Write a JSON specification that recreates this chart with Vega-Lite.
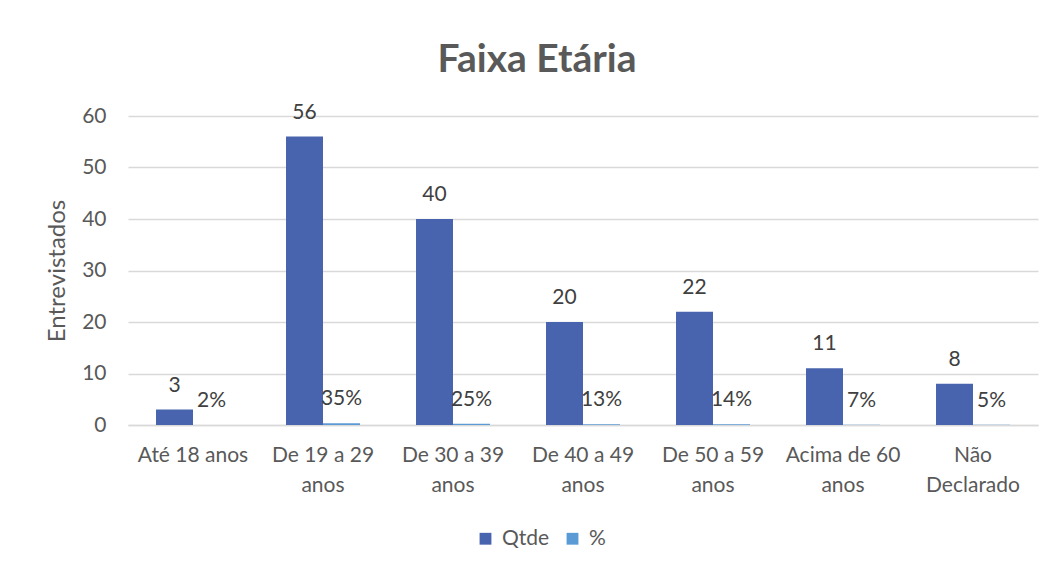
{
  "$schema": "https://vega.github.io/schema/vega-lite/v6.json",
  "autosize": "none",
  "width": 910,
  "height": 309,
  "padding": {"left": 128, "top": 116, "right": 16, "bottom": 146},
  "background": "white",
  "title": {
    "text": "Faixa Etária",
    "font": "Lato",
    "fontSize": 39,
    "fontWeight": "bold",
    "color": "#595959",
    "anchor": "middle",
    "dx": -46,
    "offset": 22
  },
  "data": {
    "values": [
      {"faixa": "Até 18 anos", "serie": "Qtde", "valor": 3, "rotulo": "3"},
      {"faixa": "Até 18 anos", "serie": "%", "valor": 0.02, "rotulo": "2%"},
      {"faixa": "De 19 a 29 anos", "serie": "Qtde", "valor": 56, "rotulo": "56"},
      {"faixa": "De 19 a 29 anos", "serie": "%", "valor": 0.35, "rotulo": "35%"},
      {"faixa": "De 30 a 39 anos", "serie": "Qtde", "valor": 40, "rotulo": "40"},
      {"faixa": "De 30 a 39 anos", "serie": "%", "valor": 0.25, "rotulo": "25%"},
      {"faixa": "De 40 a 49 anos", "serie": "Qtde", "valor": 20, "rotulo": "20"},
      {"faixa": "De 40 a 49 anos", "serie": "%", "valor": 0.13, "rotulo": "13%"},
      {"faixa": "De 50 a 59 anos", "serie": "Qtde", "valor": 22, "rotulo": "22"},
      {"faixa": "De 50 a 59 anos", "serie": "%", "valor": 0.14, "rotulo": "14%"},
      {"faixa": "Acima de 60 anos", "serie": "Qtde", "valor": 11, "rotulo": "11"},
      {"faixa": "Acima de 60 anos", "serie": "%", "valor": 0.07, "rotulo": "7%"},
      {"faixa": "Não Declarado", "serie": "Qtde", "valor": 8, "rotulo": "8"},
      {"faixa": "Não Declarado", "serie": "%", "valor": 0.05, "rotulo": "5%"}
    ]
  },
  "encoding": {
    "x": {
      "field": "faixa",
      "type": "nominal",
      "sort": null,
      "scale": {"paddingInner": 0.431, "paddingOuter": 0.2155},
      "axis": {
        "title": null,
        "labelAngle": 0,
        "labelFont": "Lato",
        "labelFontSize": 21,
        "labelColor": "#595959",
        "labelPadding": 30,
        "labelLineHeight": 30,
        "labelBaseline": "middle",
        "labelExpr": "datum.value == 'Até 18 anos' ? datum.value : datum.value == 'Não Declarado' ? ['Não', 'Declarado'] : [replace(datum.value, ' anos', ''), 'anos']",
        "ticks": false,
        "domainColor": "#d9d9d9",
        "domainWidth": 1.5,
        "grid": false
      }
    },
    "xOffset": {
      "field": "serie",
      "type": "nominal",
      "sort": ["Qtde", "%"],
      "scale": {"paddingInner": 0, "paddingOuter": 0}
    },
    "y": {
      "field": "valor",
      "type": "quantitative",
      "scale": {"domain": [0, 60]},
      "axis": {
        "title": "Entrevistados",
        "titleFont": "Lato",
        "titleFontSize": 24,
        "titleFontWeight": "normal",
        "titleColor": "#595959",
        "titlePadding": 12,
        "values": [0, 10, 20, 30, 40, 50, 60],
        "labelFont": "Lato",
        "labelFontSize": 21,
        "labelColor": "#595959",
        "labelPadding": 22,
        "ticks": false,
        "domain": false,
        "gridColor": "#d9d9d9",
        "gridWidth": 1.5
      }
    }
  },
  "layer": [
    {
      "mark": {"type": "bar"},
      "encoding": {
        "color": {
          "field": "serie",
          "type": "nominal",
          "sort": ["Qtde", "%"],
          "scale": {"domain": ["Qtde", "%"], "range": ["#4864AE", "#5B9BD5"]},
          "legend": {
            "title": null,
            "orient": "none",
            "direction": "horizontal",
            "legendX": 347,
            "legendY": 412,
            "symbolType": "square",
            "symbolSize": 140,
            "symbolStrokeWidth": 0,
            "labelFont": "Lato",
            "labelFontSize": 21,
            "labelColor": "#595959",
            "labelOffset": 6,
            "columnPadding": 12
          }
        }
      }
    },
    {
      "mark": {
        "type": "text",
        "font": "Lato",
        "fontSize": 21,
        "color": "#404040",
        "baseline": "alphabetic",
        "dy": -18
      },
      "encoding": {
        "text": {"field": "rotulo", "type": "nominal"}
      }
    }
  ],
  "config": {
    "view": {"stroke": null}
  }
}
